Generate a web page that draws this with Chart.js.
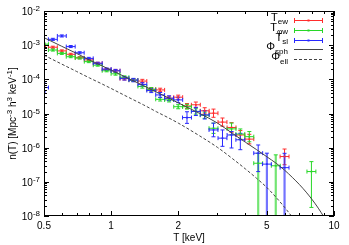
<!DOCTYPE html>
<html>
<head>
<meta charset="utf-8">
<script src="https://cdn.jsdelivr.net/npm/chart.js@4.4.0/dist/chart.umd.min.js"></script>
<style>
  html, body { margin: 0; padding: 0; background: #fff; }
  #wrap { width: 349px; height: 245px; }
</style>
</head>
<body>
<div id="wrap"><canvas id="tempChart"></canvas></div>
<script>
// temperature bins (keV), log-spaced
const tBins = [0.5, 0.548, 0.601, 0.659, 0.723, 0.794, 0.871, 0.955, 1.047, 1.148, 1.259,
  1.381, 1.514, 1.66, 1.82, 2.0, 2.19, 2.4, 2.63, 2.88, 3.16, 3.47, 3.8, 4.17, 4.57, 5.0,
  5.48, 6.0, 6.59, 7.22, 7.92];
const binHalfDex = 0.02;

// T_ew (red)
const ewN = [9.8e-4, 8.7e-4, 6.8e-4, 5.4e-4, 4.3e-4, 3.7e-4, 2.95e-4, 1.95e-4, 1.78e-4, 1.05e-4, 9.5e-5,
  8.9e-5, 5.1e-5, 4.9e-5, 2.8e-5, 3.0e-5, 1.66e-5, 1.8e-5, 1.2e-5, 1.02e-5, 5.6e-6, 3.9e-6, 2.35e-6,
  1.78e-6, null, null, null, 5.5e-7, null, null, null];
const ewUp = [.03, .03, .03, .03, .03, .03, .03, .03, .04, .04, .04, .05, .05, .05, .06, .06, .07, .08, .09,
  .12, .12, .14, .13, .14, null, null, null, .22, null, null, null];
const ewDn = [.03, .03, .03, .03, .03, .03, .03, .03, .04, .04, .04, .05, .05, .05, .06, .06, .07, .08, .09,
  .12, .12, .14, .13, .14, null, null, null, .24, null, null, null];

// T_phiw (green)
const pwN = [1.07e-3, 7.2e-4, 5.75e-4, 4.6e-4, 4.2e-4, 3.3e-4, 2.6e-4, 1.78e-4, 1.45e-4, 1.15e-4, 9.5e-5,
  6.2e-5, 5.1e-5, 2.6e-5, 2.5e-5, 1.58e-5, 1.58e-5, 1.15e-5, 8.9e-6, 3.7e-6, null, 3.55e-6, 2.5e-6,
  2.1e-6, 3.5e-7, null, 2.95e-7, null, null, null, 2.0e-7];
const pwUp = [.03, .03, .03, .03, .03, .03, .03, .03, .04, .04, .04, .05, .05, .05, .06, .06, .07, .08, .09,
  .15, null, .17, .15, .15, .29, null, .32, null, null, null, .29];
const pwDn = [.03, .03, .03, .03, .03, .03, .03, .03, .04, .04, .04, .05, .05, .05, .06, .06, .07, .08, .09,
  .15, null, .17, .15, .15, 3, null, 3, null, null, null, 1.05];

// T_sl (blue)
const slN = [5.75e-5, 1.48e-3, 1.86e-3, 9.1e-4, 6.0e-4, 4.1e-4, 2.95e-4, 2.0e-4, 1.78e-4, 1.07e-4, 9.5e-5,
  7.1e-5, 4.7e-5, 3.5e-5, 2.8e-5, 2.5e-5, 7.6e-6, 1.15e-5, 9.1e-6, 3.3e-6, 1.9e-6, 2.35e-6, 1.7e-6,
  null, 6.9e-7, 3.3e-7, null, 2.6e-7, null, null, null];
const slUp = [.13, .03, .03, .03, .03, .03, .03, .03, .04, .05, .05, .05, .06, .07, .07, .08, .17, .12, .12,
  .2, .24, .1, .19, null, .24, .32, null, .42, null, null, null];
const slDn = [.13, .03, .03, .03, .03, .03, .03, .03, .04, .05, .05, .05, .06, .07, .07, .08, .17, .12, .12,
  .2, .24, .38, .29, null, .54, 3, null, 3, null, null, null];

// model curves
const sphT = [0.5, 0.6, 0.7, 0.8, 0.9, 1, 1.2, 1.4, 1.6, 1.8, 2, 2.5, 3, 3.5, 4, 4.5, 5, 5.5, 6, 6.5, 7, 7.5, 8, 8.5, 9];
const sphN = [1.66e-3, 9.3e-4, 5.75e-4, 3.7e-4, 2.57e-4, 1.86e-4, 1.05e-4, 6.5e-5, 4.2e-5, 2.9e-5, 2.05e-5,
  1.0e-5, 5.25e-6, 2.63e-6, 1.45e-6, 8.7e-7, 5.4e-7, 3.5e-7, 2.2e-7, 1.35e-7, 8.3e-8, 5.0e-8, 2.95e-8, 1.7e-8, 9.5e-9];
const ellT = [0.5, 0.6, 0.7, 0.8, 0.9, 1, 1.2, 1.4, 1.6, 1.8, 2, 2.5, 3, 3.5, 4, 4.5, 5, 5.5, 6, 6.5];
const ellN = [5.1e-4, 2.8e-4, 1.7e-4, 1.1e-4, 7.6e-5, 5.4e-5, 2.95e-5, 1.78e-5, 1.12e-5, 7.6e-6, 5.25e-6,
  2.2e-6, 1.02e-6, 4.8e-7, 2.4e-7, 1.26e-7, 6.8e-8, 3.5e-8, 1.8e-8, 9.3e-9];

// axis ticks
const xMajor = [0.5, 1, 2, 5, 10];
const xLabels = ['0.5', '1', '2', '5', '10'];
const xMinor = [0.6, 0.7, 0.8, 0.9, 3, 4, 6, 7, 8, 9];
const yExp = [-2, -3, -4, -5, -6, -7, -8];

const FONT = '"Liberation Sans", Arial, sans-serif';
const RED = 'rgb(255,45,45)', GREEN = 'rgb(40,215,40)', BLUE = 'rgb(40,40,255)', LINE = '#444';

const errSeries = [
  { n: ewN, up: ewUp, dn: ewDn, color: RED },
  { n: pwN, up: pwUp, dn: pwDn, color: GREEN },
  { n: slN, up: slUp, dn: slDn, color: BLUE }
];

function toPoints(xs, ys) {
  const out = [];
  xs.forEach((x, i) => { if (ys[i] !== null) out.push({ x: x, y: ys[i] }); });
  return out;
}

// draws text with sub/superscript parts; s: 0 normal, 1 sup, -1 sub
function drawRich(ctx, parts, x, y, align, size) {
  const small = Math.round(size * 0.75);
  let w = 0;
  parts.forEach(p => {
    ctx.font = (p.s ? small : size) + 'px ' + FONT;
    p.w = ctx.measureText(p.t).width;
    w += p.w;
  });
  let cx = align === 'right' ? x - w : (align === 'center' ? x - w / 2 : x);
  ctx.textAlign = 'left';
  ctx.textBaseline = 'alphabetic';
  parts.forEach(p => {
    ctx.font = (p.s ? small : size) + 'px ' + FONT;
    const dy = p.s === 1 ? -size * 0.4 : (p.s === -1 ? size * 0.3 : 0);
    ctx.fillText(p.t, cx, y + dy);
    cx += p.w;
  });
}

const errorBarPlugin = {
  id: 'errorBars',
  beforeDatasetsDraw(chart) {
    const { ctx, chartArea: a, scales: { x, y } } = chart;
    ctx.save();
    ctx.beginPath();
    ctx.rect(a.left, a.top, a.right - a.left, a.bottom - a.top);
    ctx.clip();
    errSeries.forEach(s => {
      ctx.strokeStyle = s.color;
      tBins.forEach((t, i) => {
        const v = s.n[i];
        if (v === null) return;
        const px = x.getPixelForValue(t);
        const py = y.getPixelForValue(v);
        const x0 = x.getPixelForValue(t / Math.pow(10, binHalfDex));
        const x1 = x.getPixelForValue(t * Math.pow(10, binHalfDex));
        const y0 = y.getPixelForValue(v * Math.pow(10, s.up[i]));
        const y1 = y.getPixelForValue(v / Math.pow(10, s.dn[i]));
        ctx.lineWidth = 1;
        ctx.globalAlpha = 1;
        ctx.beginPath();
        ctx.moveTo(x0, py); ctx.lineTo(x1, py);
        ctx.moveTo(x0, py - 2); ctx.lineTo(x0, py + 2);
        ctx.moveTo(x1, py - 2); ctx.lineTo(x1, py + 2);
        ctx.moveTo(px - 2, y0); ctx.lineTo(px + 2, y0);
        ctx.stroke();
        const open = s.dn[i] >= 3;
        ctx.lineWidth = open ? 2.2 : 1;
        ctx.globalAlpha = open ? 0.65 : 1;
        ctx.beginPath();
        ctx.moveTo(px, y0); ctx.lineTo(px, y1);
        if (!open) { ctx.moveTo(px - 2, y1); ctx.lineTo(px + 2, y1); }
        ctx.stroke();
      });
    });
    ctx.restore();
  },
  afterDraw(chart) {
    const { ctx, chartArea: a, scales: { x, y } } = chart;
    ctx.save();
    ctx.strokeStyle = '#000';
    ctx.fillStyle = '#000';
    ctx.lineWidth = 1;
    ctx.strokeRect(a.left + 0.5, a.top + 0.5, a.right - a.left - 1, a.bottom - a.top - 1);

    ctx.beginPath();
    xMajor.forEach(v => {
      const p = Math.round(x.getPixelForValue(v)) + 0.5;
      ctx.moveTo(p, a.bottom); ctx.lineTo(p, a.bottom - 5);
      ctx.moveTo(p, a.top); ctx.lineTo(p, a.top + 5);
    });
    xMinor.forEach(v => {
      const p = Math.round(x.getPixelForValue(v)) + 0.5;
      ctx.moveTo(p, a.bottom); ctx.lineTo(p, a.bottom - 3);
      ctx.moveTo(p, a.top); ctx.lineTo(p, a.top + 3);
    });
    yExp.forEach(e => {
      const p = Math.round(y.getPixelForValue(Math.pow(10, e))) + 0.5;
      ctx.moveTo(a.left, p); ctx.lineTo(a.left + 5, p);
      ctx.moveTo(a.right, p); ctx.lineTo(a.right - 5, p);
      if (e === -2) return;
      for (let m = 2; m <= 9; m++) {
        const q = Math.round(y.getPixelForValue(m * Math.pow(10, e))) + 0.5;
        ctx.moveTo(a.left, q); ctx.lineTo(a.left + 3, q);
        ctx.moveTo(a.right, q); ctx.lineTo(a.right - 3, q);
      }
    });
    ctx.stroke();

    // tick labels
    ctx.font = '10px ' + FONT;
    ctx.textAlign = 'center';
    ctx.textBaseline = 'alphabetic';
    xMajor.forEach((v, i) => {
      ctx.fillText(xLabels[i], x.getPixelForValue(v), a.bottom + 13);
    });
    yExp.forEach(e => {
      const p = y.getPixelForValue(Math.pow(10, e));
      drawRich(ctx, [{ t: '10', s: 0 }, { t: String(e).replace('-', '\u2212').replace('\u2212', '-'), s: 1 }], 40, p + 4, 'right', 10);
    });

    // axis titles
    drawRich(ctx, [{ t: 'T [keV]', s: 0 }], (a.left + a.right) / 2, 241, 'center', 10);
    ctx.save();
    ctx.translate(16, (a.top + a.bottom) / 2);
    ctx.rotate(-Math.PI / 2);
    drawRich(ctx, [{ t: 'n(T) [Mpc', s: 0 }, { t: '-3', s: 1 }, { t: ' h', s: 0 }, { t: '3', s: 1 },
      { t: ' keV', s: 0 }, { t: '-1', s: 1 }, { t: ']', s: 0 }], 0, 0, 'center', 10);
    ctx.restore();

    // legend
    const rows = [
      { main: 'T', sub: 'ew', color: RED, bar: true },
      { main: 'T', sub: '\u03c6w', color: GREEN, bar: true },
      { main: 'T', sub: 'sl', color: BLUE, bar: true },
      { main: '\u03a6', sub: 'sph', color: LINE, bar: false },
      { main: '\u03a6', sub: 'ell', color: LINE, bar: false, dash: true }
    ];
    rows.forEach((r, i) => {
      const ry = 20 + i * 9.8;
      ctx.fillStyle = '#000';
      drawRich(ctx, [{ t: r.main, s: 0 }, { t: r.sub, s: -1 }], 288, ry + 1, 'right', 11);
      ctx.strokeStyle = r.color;
      ctx.lineWidth = 1;
      ctx.setLineDash(r.dash ? [3, 2] : []);
      const yy = Math.round(ry) + 0.5;
      ctx.beginPath();
      ctx.moveTo(294, yy); ctx.lineTo(323, yy);
      if (r.bar) {
        ctx.moveTo(294.5, yy - 2.5); ctx.lineTo(294.5, yy + 2.5);
        ctx.moveTo(322.5, yy - 2.5); ctx.lineTo(322.5, yy + 2.5);
      }
      ctx.stroke();
      if (r.bar) { ctx.fillStyle = r.color; ctx.fillRect(307.5, yy - 1, 2, 2); }
    });
    ctx.setLineDash([]);
    ctx.restore();
  }
};

const logAxis = (min, max, size, key) => ({
  type: 'logarithmic',
  min: min,
  max: max,
  ticks: { display: false },
  grid: { display: false },
  border: { display: false },
  afterFit(scale) { scale[key] = size; }
});

new Chart(document.getElementById('tempChart'), {
  type: 'scatter',
  data: {
    datasets: [
      { type: 'line', label: 'sph', data: toPoints(sphT, sphN), borderColor: LINE, borderWidth: 1,
        pointRadius: 0, cubicInterpolationMode: 'monotone', fill: false },
      { type: 'line', label: 'ell', data: toPoints(ellT, ellN), borderColor: LINE, borderWidth: 1,
        borderDash: [3, 2], pointRadius: 0, cubicInterpolationMode: 'monotone', fill: false },
      { label: 'sl', data: toPoints(tBins, slN), backgroundColor: BLUE, borderWidth: 0, pointStyle: 'rect', pointRadius: 1.2 },
      { label: 'pw', data: toPoints(tBins, pwN), backgroundColor: GREEN, borderWidth: 0, pointStyle: 'rect', pointRadius: 1.2 },
      { label: 'ew', data: toPoints(tBins, ewN), backgroundColor: RED, borderWidth: 0, pointStyle: 'rect', pointRadius: 1.2 }
    ]
  },
  options: {
    responsive: true,
    maintainAspectRatio: false,
    animation: false,
    devicePixelRatio: 1,
    layout: { padding: { top: 11, right: 15, left: 0, bottom: 0 } },
    plugins: { legend: { display: false }, tooltip: { enabled: false } },
    scales: {
      x: logAxis(0.5, 10, 29, 'height'),
      y: logAxis(1e-8, 1e-2, 44, 'width')
    }
  },
  plugins: [errorBarPlugin]
});
</script>
</body>
</html>
